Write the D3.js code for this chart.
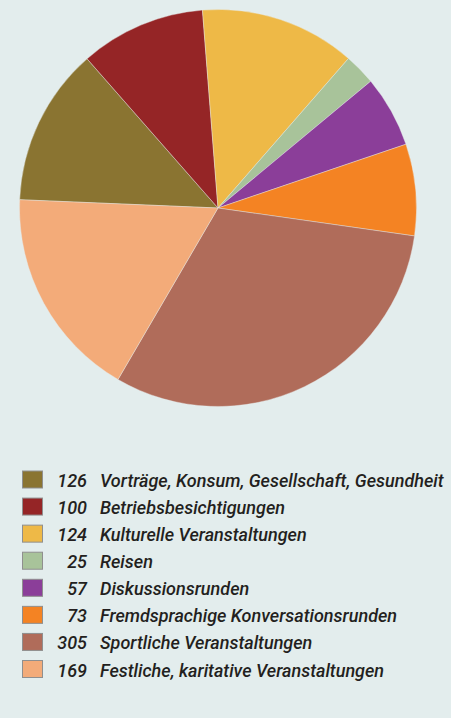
<!DOCTYPE html>
<html><head><meta charset="utf-8">
<script src="https://cdn.jsdelivr.net/npm/d3@7"></script>
<style>
html,body{margin:0;padding:0;background:#e3eded;}
svg{display:block;}
text{font-family:Roboto,"Liberation Sans",sans-serif;font-style:italic;font-weight:500;fill:#231f20;}
</style></head>
<body>
<svg id="chart" width="451" height="718"></svg>
<script>
const categories = ["Vorträge, Konsum, Gesellschaft, Gesundheit","Betriebsbesichtigungen","Kulturelle Veranstaltungen","Reisen","Diskussionsrunden","Fremdsprachige Konversationsrunden","Sportliche Veranstaltungen","Festliche, karitative Veranstaltungen"];
const values = [126,100,124,25,57,73,305,169];
const colors = ["#8a7431","#952526","#eeb947","#a8c39a","#8b3e99","#f48323","#b06c5a","#f3ab79"];

const svg = d3.select("#chart");
const cx = 218, cy = 208, r = 198.5;
const pie = d3.pie().sort(null).startAngle(-87.6*Math.PI/180).endAngle((360-87.6)*Math.PI/180);
const arc = d3.arc().innerRadius(0).outerRadius(r);
const g = svg.append("g").attr("transform",`translate(${cx},${cy})`);
g.selectAll("path").data(pie(values)).join("path")
  .attr("d",arc).attr("fill",(d,i)=>colors[i])
  .attr("stroke","#e8eeee").attr("stroke-width",0.4);

const y = d3.scalePoint().domain(d3.range(categories.length)).range([479.5,669]);
const leg = svg.append("g");
const rows = leg.selectAll("g").data(categories).join("g").attr("transform",(d,i)=>`translate(0,${y(i)})`);
rows.append("rect").attr("x",22.5).attr("y",-8.5).attr("width",20).attr("height",17)
  .attr("fill",(d,i)=>colors[i]).attr("stroke","#8f8f8f").attr("stroke-width",1);
rows.append("text").attr("x",87).attr("y",7.5).attr("text-anchor","end")
  .attr("font-size",18).text((d,i)=>values[i]);
rows.append("text").attr("x",100).attr("y",7.5)
  .attr("font-size",18).text(d=>d);
</script>
</body></html>
